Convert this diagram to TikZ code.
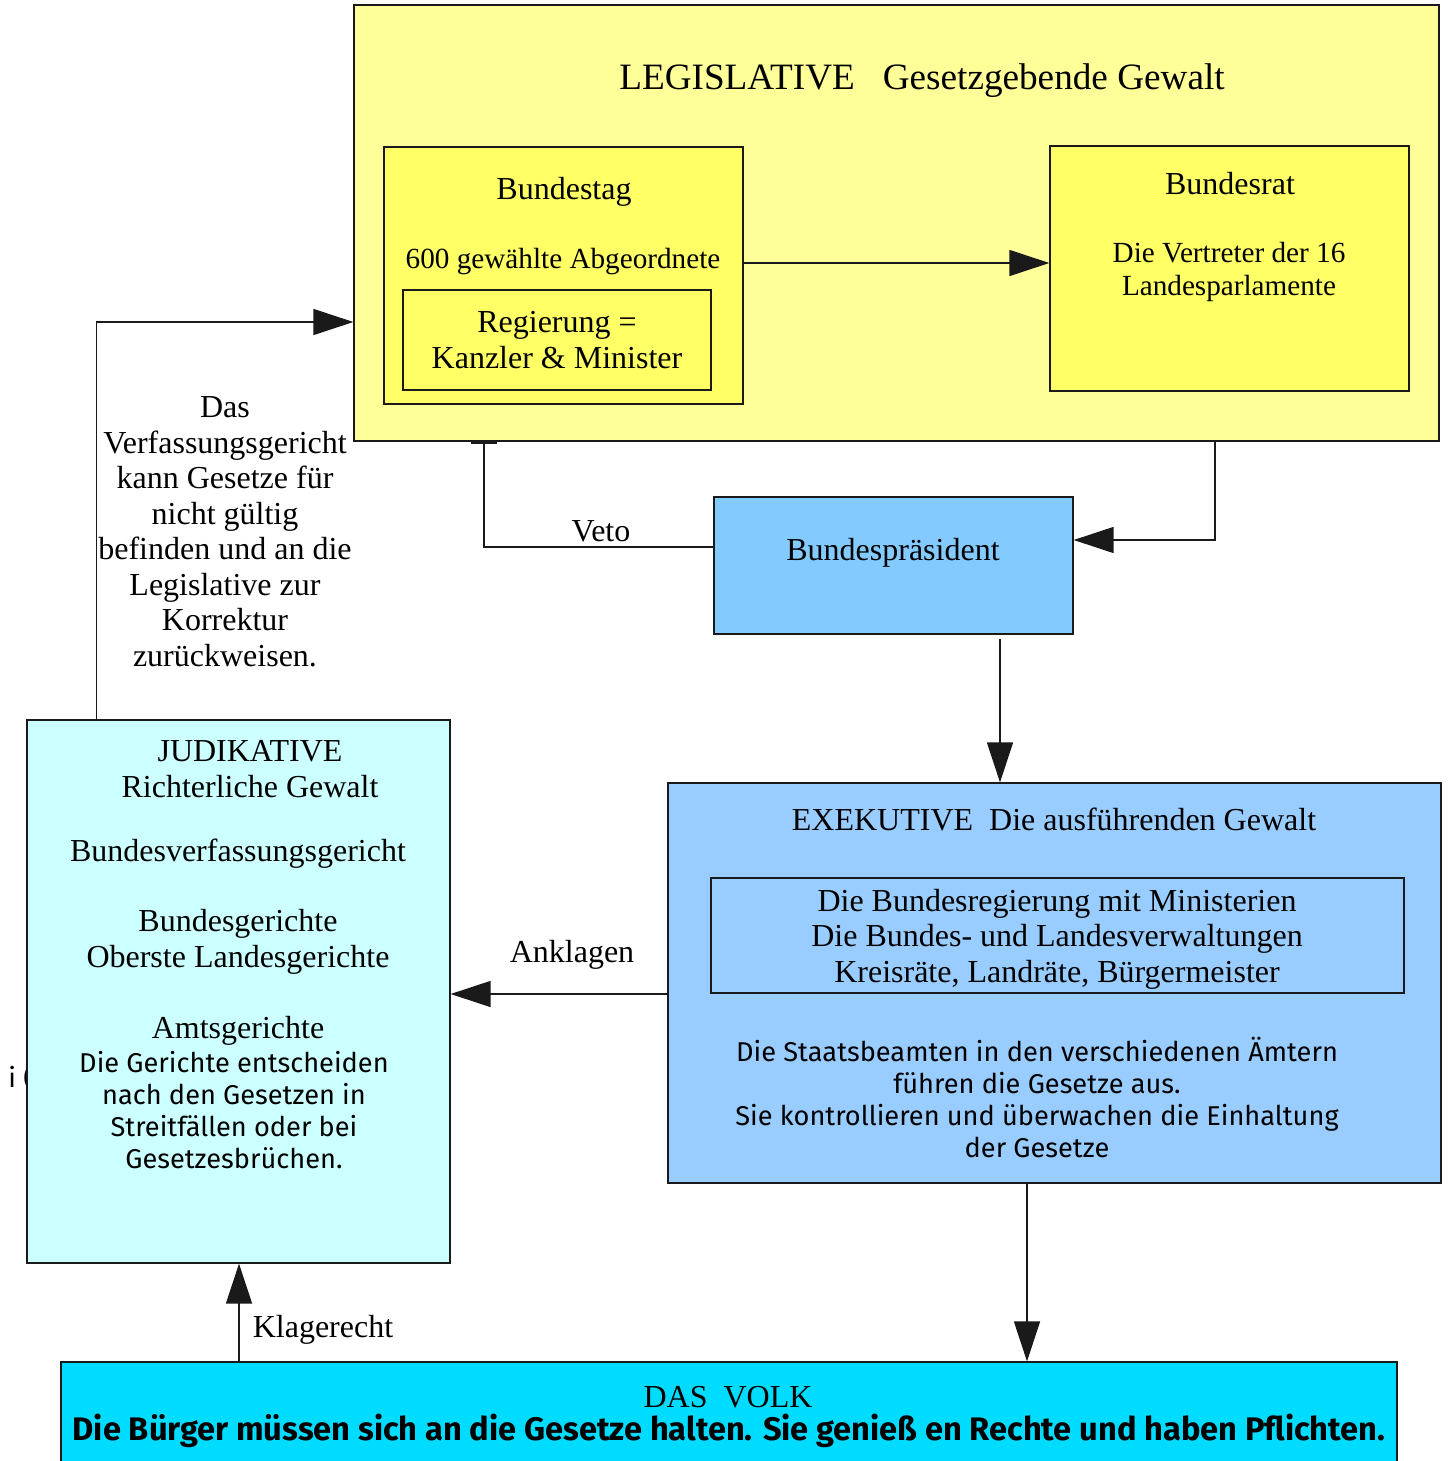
\documentclass[tikz,border=0pt]{standalone}
\usepackage{fontspec}
\setmainfont{Liberation Serif}
\newfontfamily\deco{Fira Sans}
\usetikzlibrary{arrows.meta,calc}
\definecolor{legfill}{HTML}{FFFF99}
\definecolor{innfill}{HTML}{FFFF66}
\definecolor{bpfill}{HTML}{83CAFF}
\definecolor{exfill}{HTML}{99CCFF}
\definecolor{judfill}{HTML}{CCFFFF}
\definecolor{volkfill}{HTML}{00DCFF}
\definecolor{edge}{HTML}{1A1A1A}
\newcommand\sz{\fontsize{16pt}{17.75pt}\selectfont}
\newcommand\szs{\fontsize{14.6pt}{16.5pt}\selectfont}
\newcommand\szt{\fontsize{18.6pt}{21pt}\selectfont}
\newcommand\szd{\fontsize{13.6pt}{15.9pt}\selectfont}
\newcommand\szb{\fontsize{16.3pt}{18pt}\selectfont}
\tikzset{
  box/.style={draw=edge, line width=0.6pt, rectangle, inner sep=0pt},
  lbl/.style={anchor=base, inner sep=0pt, align=center, font=\sz},
  slbl/.style={anchor=base, inner sep=0pt, align=center, font=\szs},
  dlbl/.style={anchor=base, inner sep=0pt, align=center, font=\deco\szd},
  arr/.style={draw=edge, line width=0.7pt, -{Triangle[length=20pt,width=13pt]}},
  tee/.style={draw=edge, line width=0.7pt, -{Bar[width=13pt,line width=1.2pt]}},
}
\begin{document}
\begin{tikzpicture}[x=0.5pt,y=-0.5pt]
\useasboundingbox (0,0) rectangle (1447,1461);
\clip (0,0) rectangle (1447,1461);
\fill[white] (0,0) rectangle (1447,1461);

% partially hidden text on the left
\node[anchor=base west, inner sep=0pt, font=\deco\szd] (hid) at (8,1087) {i (};

% boxes
\node[box, fill=legfill, minimum width=542.5pt, minimum height=218pt] (leg) at (896.5,223) {};
\node[box, fill=innfill, minimum width=179.5pt, minimum height=128.5pt] (bt) at (563.5,275.5) {};
\node[box, fill=innfill, minimum width=154pt, minimum height=50pt] (reg) at (557,340) {};
\node[box, fill=innfill, minimum width=179.5pt, minimum height=122.5pt] (br) at (1229.5,268.5) {};
\node[box, fill=bpfill, minimum width=179.5pt, minimum height=68.5pt] (bp) at (893.5,565.5) {};
\node[box, fill=exfill, minimum width=386.5pt, minimum height=200pt] (ex) at (1054.5,983) {};
\node[box, minimum width=346.5pt, minimum height=57.5pt] (exin) at (1057.5,935.5) {};
\node[box, fill=judfill, minimum width=211.5pt, minimum height=271.5pt] (jud) at (238.5,991.5) {};
\node[box, fill=volkfill, minimum width=668pt, minimum height=56.5pt] (volk) at (729,1418.5) {};

% texts (anchor = baseline of the last line)
\node[lbl, font=\szt] (tleg) at (922,90) {LEGISLATIVE\ \ \ Gesetzgebende Gewalt};
\node[lbl] (tbt) at (564,199) {Bundestag};
\node[slbl] (tbt2) at (563,268) {600 gewählte Abgeordnete};
\node[lbl] (treg) at (557,368) {Regierung =\\Kanzler \& Minister};
\node[lbl] (tbr) at (1230,194) {Bundesrat};
\node[slbl] (tbr2) at (1229,295) {Die Vertreter der 16\\Landesparlamente};
\node[lbl] (tbp) at (893,560) {Bundespräsident};
\node[lbl] (tvf) at (225,666) {Das\\Verfassungsgericht\\kann Gesetze für\\nicht gültig\\befinden und an die\\Legislative zur\\Korrektur\\zurückweisen.};
\node[lbl] (tjud) at (250,797) {JUDIKATIVE\\Richterliche Gewalt};
\node[lbl] (tjud2) at (238,861) {Bundesverfassungsgericht};
\node[lbl] (tjud3) at (238,967) {Bundesgerichte\\Oberste Landesgerichte};
\node[lbl] (tjud4) at (238,1038) {Amtsgerichte};
\node[dlbl] (tjud5) at (234,1168) {Die Gerichte entscheiden\\nach den Gesetzen in\\Streitfällen oder bei\\Gesetzesbrüchen.};
\node[lbl] (tex) at (1054,830) {EXEKUTIVE\ \ Die ausführenden Gewalt};
\node[lbl] (texin) at (1057,982) {Die Bundesregierung mit Ministerien\\Die Bundes- und Landesverwaltungen\\Kreisräte, Landräte, Bürgermeister};
\node[dlbl] (tex2) at (1037,1157) {Die Staatsbeamten in den verschiedenen Ämtern\\führen die Gesetze aus.\\Sie kontrollieren und überwachen die Einhaltung\\der Gesetze};
\node[lbl] (tvolk) at (728,1407) {DAS\ \ VOLK};
\node[lbl, font=\deco\bfseries\szb] (tvolk2) at (729,1440) {Die Bürger müssen sich an die Gesetze halten. Sie genieß en Rechte und haben Pflichten.};

% connectors
\coordinate (a1) at ([yshift=6.25pt]bt.east);
\draw[arr] (a1) -- (a1 -| br.west);

\coordinate (j1) at ([xshift=35pt]jud.north west);
\coordinate (l1) at ([yshift=-49.5pt]leg.west);
\draw[arr] (j1) |- (l1);

\coordinate (l2) at ([xshift=159.25pt]leg.south);
\coordinate (b1) at ([yshift=12.75pt]bp.east);
\draw[arr] (l2) |- (b1);

\coordinate (b2) at ([yshift=9.25pt]bp.west);
\coordinate (l3) at ([xshift=-206.25pt]leg.south);
\draw[tee] (b2) -| (l3);
\node[lbl] (tveto) at (601,541) {Veto};

\coordinate (b3) at ([xshift=53.25pt,yshift=-2pt]bp.south);
\draw[arr] (b3) -- (b3 |- ex.north);

\coordinate (e1) at ([yshift=-5.5pt]ex.west);
\draw[arr] (e1) -- (e1 -| jud.east);
\node[lbl] (tank) at (572,962) {Anklagen};

\coordinate (e2) at ([xshift=-13.75pt]ex.south);
\draw[arr] (e2) -- (e2 |- volk.north);

\coordinate (v1) at ([xshift=-245pt]volk.north);
\draw[arr] (v1) -- (v1 |- jud.south);
\node[lbl] (tkl) at (323,1337) {Klagerecht};
\end{tikzpicture}
\end{document}
